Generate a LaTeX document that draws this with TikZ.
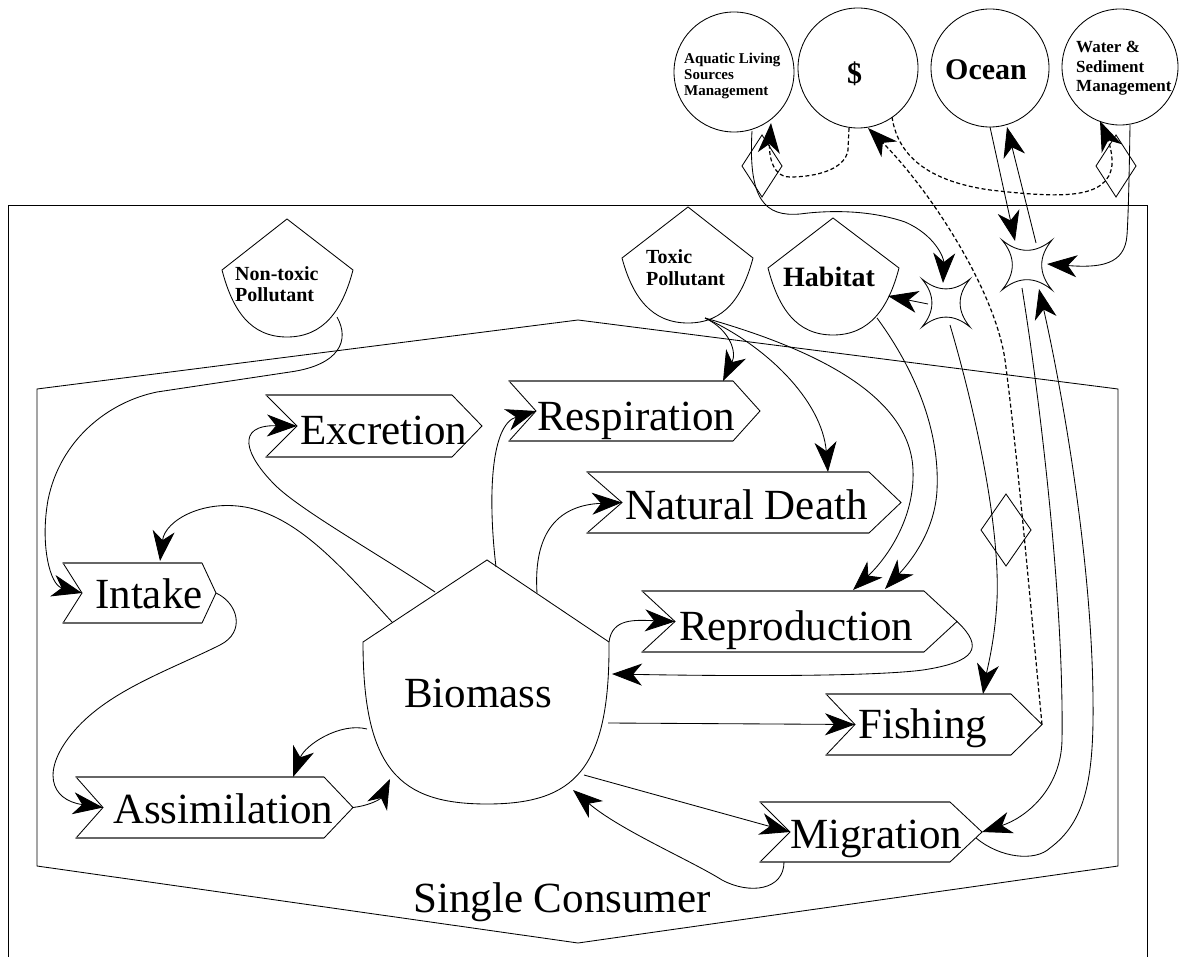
\documentclass[tikz,border=0pt]{standalone}
\usepackage{fontspec}
\setmainfont{Liberation Serif}
\usetikzlibrary{arrows.meta}
\tikzset{
  ln/.style={line width=0.85pt},
  arr/.style={ln, -{Stealth[length=30pt,width=22pt,inset=9pt]}},
  dsh/.style={line width=1.2pt, dash pattern=on 4pt off 2.5pt},
  darr/.style={dsh, -{Stealth[length=30pt,width=22pt,inset=9pt]}},
  lbl/.style={anchor=base west, inner sep=0pt, font=\fontsize{43}{46}\selectfont},
  blbl/.style={anchor=base west, inner sep=0pt},
  circ/.style={circle, draw, line width=0.85pt, inner sep=0pt},
  edge/.style={line width=1.5pt, black!60}
}
% chevron: name, xl, xr, yt, yb, xnotch, xpoint
\newcommand\chevshape[7]{%
  \draw[ln] (#2,#4) -- (#3,#4) -- (#7,{(#4+#5)/2}) -- (#3,#5) -- (#2,#5) -- (#6,{(#4+#5)/2}) -- cycle;
  \draw[edge] (#2,#4) -- (#3,#4);
  \draw[edge] (#2,#5) -- (#3,#5);
  \coordinate (#1-notch) at (#6,{(#4+#5)/2});
  \coordinate (#1-point) at (#7,{(#4+#5)/2});
}
% shield: topx, topy, leftx, rightx, shouldery, bottomy
\newcommand\shieldshape[6]{%
  \draw[ln] (#1,#2) -- (#4,#5) .. controls ({#4-0.08*(#4-#3)},{#5+0.6*(#6-#5)}) and ({#1+0.28*(#4-#3)},#6) .. (#1,#6)
     .. controls ({#1-0.28*(#4-#3)},#6) and ({#3+0.08*(#4-#3)},{#5+0.6*(#6-#5)}) .. (#3,#5) -- cycle;
}
% concave star: cx, cy, h
\newcommand\starshape[3]{%
  \draw[ln] ({#1-#3},{#2-#3}) .. controls ({#1-#3/3},{#2-0.45*#3}) and ({#1+#3/3},{#2-0.45*#3}) .. ({#1+#3},{#2-#3})
     .. controls ({#1+0.45*#3},{#2-#3/3}) and ({#1+0.45*#3},{#2+#3/3}) .. ({#1+#3},{#2+#3})
     .. controls ({#1+#3/3},{#2+0.45*#3}) and ({#1-#3/3},{#2+0.45*#3}) .. ({#1-#3},{#2+#3})
     .. controls ({#1-0.45*#3},{#2+#3/3}) and ({#1-0.45*#3},{#2-#3/3}) .. ({#1-#3},{#2-#3}) -- cycle;
}
% diamond: cx, cy, hw, hh
\newcommand\diamshape[4]{%
  \draw[ln] ({#1-#3},#2) -- (#1,{#2-#4}) -- ({#1+#3},#2) -- (#1,{#2+#4}) -- cycle;
}
\begin{document}
\begin{tikzpicture}[x=1pt,y=-1pt]
\useasboundingbox (0,0) rectangle (1183,957);
% frames
\draw[ln] (8,957) -- (8,205) -- (1147,205) -- (1147,957);
\draw[ln] (37,389) -- (578,320) -- (1118,389) -- (1118,866) -- (578,943) -- (37,866) -- cycle;
\node[lbl] (sc) at (413,912) {Single Consumer};

% top circles
\node[circ, minimum size=120pt] (aqua) at (734,72) {};
\node[circ, minimum size=120pt] (dollar) at (858,68) {};
\node[circ, minimum size=118pt] (ocean) at (990,68) {};
\node[circ, minimum size=116pt] (wsm) at (1120,67) {};
\node[blbl, font=\bfseries\fontsize{15}{16}\selectfont] (aqua1) at (684,64) {Aquatic Living};
\node[blbl, font=\bfseries\fontsize{15}{16}\selectfont] (aqua2) at (684,80) {Sources};
\node[blbl, font=\bfseries\fontsize{15}{16}\selectfont] (aqua3) at (684,96) {Management};
\node[blbl, font=\bfseries\fontsize{30}{32}\selectfont] (dollart) at (847,84) {\$};
\node[blbl, font=\bfseries\fontsize{30}{32}\selectfont] (oceant) at (945,80) {Ocean};
\node[blbl, font=\bfseries\fontsize{17}{19}\selectfont] (wsm1) at (1076,53) {Water \&};
\node[blbl, font=\bfseries\fontsize{17}{19}\selectfont] (wsm2) at (1076,73) {Sediment};
\node[blbl, font=\bfseries\fontsize{17}{19}\selectfont] (wsm3) at (1076,92) {Management};

% diamonds and stars
\diamshape{762}{166}{20}{31}
\diamshape{1116}{166}{20}{31}
\diamshape{1006}{530}{25}{36}
\starshape{946}{303}{24}
\starshape{1027}{265}{25}

% shields
\shieldshape{287}{219}{222}{353}{270}{337}
\node[blbl, font=\bfseries\fontsize{20}{22}\selectfont] (nt1) at (235,281) {Non-toxic};
\node[blbl, font=\bfseries\fontsize{20}{22}\selectfont] (nt2) at (235,302) {Pollutant};
\shieldshape{688}{207}{622}{753}{258}{323}
\node[blbl, font=\bfseries\fontsize{20}{22}\selectfont] (tx1) at (646,264) {Toxic};
\node[blbl, font=\bfseries\fontsize{20}{22}\selectfont] (tx2) at (646,286) {Pollutant};
\shieldshape{833}{218}{768}{899}{268}{335}
\node[blbl, font=\bfseries\fontsize{28}{30}\selectfont] (hab) at (783,287) {Habitat};

% biomass
\draw[ln] (487,560) -- (609,642) .. controls (610,770) and (574,804) .. (487,804)
   .. controls (400,804) and (363,770) .. (363,642) -- cycle;
\node[lbl] (bio) at (404,707) {Biomass};

% process chevrons
\chevshape{exc}{266}{452}{395}{457}{297}{482}
\node[lbl] (exct) at (300,444) {Excretion};
\chevshape{res}{509}{733}{381}{441}{536}{760}
\node[lbl] (rest) at (537,430) {Respiration};
\chevshape{nd}{587}{869}{472}{533}{622}{901}
\node[lbl] (ndt) at (625,519) {Natural Death};
\chevshape{rep}{642}{924}{591}{652}{675}{957}
\node[lbl] (rept) at (679,640) {Reproduction};
\chevshape{fis}{826}{1011}{694}{755}{855}{1042}
\node[lbl] (fist) at (858,738) {Fishing};
\chevshape{int}{63}{202}{563}{623}{82}{216}
\node[lbl] (intt) at (95,608) {Intake};
\chevshape{ass}{76}{324}{777}{838}{103}{353}
\node[lbl] (asst) at (113,823) {Assimilation};
\chevshape{mig}{760}{950}{802}{862}{790}{982}
\node[lbl] (migt) at (790,848) {Migration};

% connector end points
\coordinate (ntout) at (337,317);
\coordinate (bioI) at (392,622);
\coordinate (bioE) at (435,592);
\coordinate (bioR) at (496,567);
\coordinate (bioN) at (537,593);
\coordinate (bioP) at (609,642);
\coordinate (bioPin) at (612,674);
\coordinate (bioF) at (608,723);
\coordinate (bioA) at (367,729);
\coordinate (bioAin) at (390,779);
\coordinate (bioM) at (584,775);
\coordinate (bioMin) at (573,790);
\coordinate (intTop) at (160,561);
\coordinate (assTop) at (293,777);
\coordinate (resTop) at (723,381);
\coordinate (ndTop) at (828,472);
\coordinate (repTop1) at (853,590);
\coordinate (repTop2) at (885,589);
\coordinate (fisTop) at (983,694);
\coordinate (migBot) at (784,862);
\coordinate (migOut) at (976,838);
\coordinate (txout) at (705,318);
\coordinate (habout) at (877,318);
\coordinate (habin) at (888,296);
\coordinate (hstL) at (928,304);
\coordinate (hstB) at (950,325);
\coordinate (hstT) at (943,283);
\coordinate (ostT1) at (1015,241);
\coordinate (ostT2) at (1036,243);
\coordinate (ostB1) at (1022,288);
\coordinate (ostB2) at (1039,289);
\coordinate (ostR) at (1047,264);
\coordinate (aquaB) at (752,131);
\coordinate (aquaIn) at (771,123);
\coordinate (dolB1) at (849,128);
\coordinate (dolB2) at (892,117);
\coordinate (dolIn) at (868,128);
\coordinate (oceanB1) at (990,127);
\coordinate (oceanIn) at (1007,127);
\coordinate (wsmB) at (1130,125);
\coordinate (wsmIn) at (1100,121);

% connectors
\draw[arr] (ntout) .. controls (350,340) and (340,365) .. (290,372) -- (157,392)
   .. controls (108,402) and (60,440) .. (48,500) .. controls (40,545) and (50,585) .. (int-notch);
\draw[arr] (int-point) .. controls (238,603) and (246,632) .. (220,645)
   .. controls (170,670) and (110,690) .. (75,730) .. controls (40,770) and (50,800) .. (ass-notch);
\draw[arr] (bioI) .. controls (340,565) and (300,520) .. (250,508) .. controls (205,498) and (165,520) .. (intTop);
\draw[arr] (bioE) .. controls (380,555) and (300,510) .. (275,485) .. controls (245,455) and (235,425) .. (exc-notch);
\draw[arr] (bioR) .. controls (488,500) and (490,425) .. (res-notch);
\draw[arr] (bioN) .. controls (533,530) and (560,505) .. (nd-notch);
\draw[arr] (bioP) .. controls (612,618) and (635,620) .. (rep-notch);
\draw[arr] (rep-point) .. controls (985,648) and (975,662) .. (923,670) .. controls (870,677) and (720,676) .. (bioPin);
\draw[arr] (bioF) -- (fis-notch);
\draw[arr] (bioA) .. controls (340,722) and (305,745) .. (assTop);
\draw[arr] (ass-point) .. controls (367,806) and (380,800) .. (bioAin);
\draw[arr] (bioM) -- (mig-notch);
\draw[arr] (migBot) .. controls (784,890) and (750,895) .. (722,880) .. controls (690,860) and (620,830) .. (bioMin);
\draw[arr] (migOut) .. controls (1000,858) and (1035,862) .. (1050,848) .. controls (1085,822) and (1094,780) .. (1093,700)
   .. controls (1092,560) and (1062,390) .. (ostB2);
\draw[arr] (ostB1) .. controls (1040,400) and (1064,600) .. (1062,740) .. controls (1061,790) and (1025,818) .. (mig-point);
\draw[arr] (oceanB1) -- (ostT1);
\draw[arr] (ostT2) -- (oceanIn);
\draw[arr] (wsmB) .. controls (1129,190) and (1128,220) .. (1127,235) .. controls (1125,265) and (1100,268) .. (ostR);
\draw[arr] (aquaB) .. controls (748,200) and (765,217) .. (800,214) .. controls (830,210) and (870,210) .. (905,222)
   .. controls (935,235) and (944,258) .. (hstT);
\draw[arr] (hstL) -- (habin);
\draw[arr] (hstB) .. controls (978,420) and (1000,530) .. (997,600) .. controls (995,640) and (987,670) .. (fisTop);
\draw[arr] (txout) .. controls (730,330) and (737,352) .. (resTop);
\draw[arr] (txout) .. controls (765,345) and (822,400) .. (ndTop);
\draw[arr] (txout) .. controls (800,345) and (910,390) .. (913,470) .. controls (915,520) and (885,560) .. (repTop1);
\draw[arr] (habout) .. controls (915,370) and (940,430) .. (937,490) .. controls (935,530) and (912,560) .. (repTop2);
% dashed control lines
\draw[darr] (dolB1) -- (848,150) .. controls (845,170) and (815,177) .. (790,177) .. controls (770,177) and (769,150) .. (aquaIn);
\draw[darr] (dolB2) .. controls (897,150) and (920,180) .. (990,190) .. controls (1060,198) and (1108,200) .. (1112,165)
   .. controls (1113,150) and (1106,135) .. (wsmIn);
\draw[darr] (fis-point) .. controls (1030,600) and (1017,450) .. (1005,360) .. controls (995,290) and (930,190) .. (dolIn);
\end{tikzpicture}
\end{document}
